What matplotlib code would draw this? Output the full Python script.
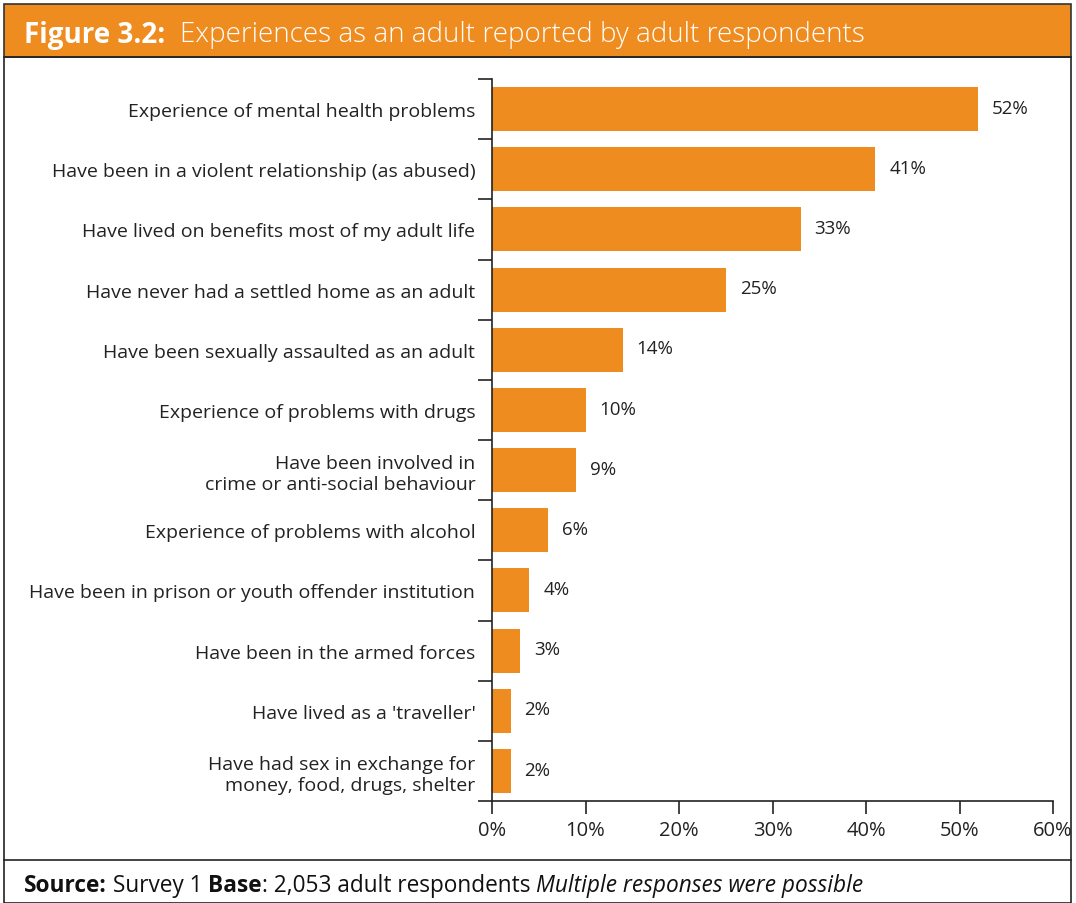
import matplotlib.pyplot as plt
from matplotlib.patches import Rectangle
from matplotlib.lines import Line2D
import numpy as np

plt.rcParams['font.family'] = ['Open Sans', 'DejaVu Sans']

categories = [
    'Experience of mental health problems',
    'Have been in a violent relationship (as abused)',
    'Have lived on benefits most of my adult life',
    'Have never had a settled home as an adult',
    'Have been sexually assaulted as an adult',
    'Experience of problems with drugs',
    'Have been involved in\ncrime or anti-social behaviour',
    'Experience of problems with alcohol',
    'Have been in prison or youth offender institution',
    'Have been in the armed forces',
    "Have lived as a 'traveller'",
    'Have had sex in exchange for\nmoney, food, drugs, shelter',
]
values = [52, 41, 33, 25, 14, 10, 9, 6, 4, 3, 2, 2]
xticks = [0, 10, 20, 30, 40, 50, 60]

orange = '#EF8C1F'
W, H = 1076, 904

fig = plt.figure(figsize=(W / 100, H / 100), dpi=100)

# pixel coords -> figure fraction
def fx(px):
    return px / W

def fy(py):
    return 1 - py / H

# header band, frame and source box
fig.patches.append(Rectangle((fx(4), fy(58)), fx(1071) - fx(4), fy(5) - fy(58),
                             transform=fig.transFigure, facecolor=orange,
                             edgecolor='#333333', lw=1.2, zorder=0))
fig.patches.append(Rectangle((fx(4), fy(904)), fx(1071) - fx(4), fy(58) - fy(904),
                             transform=fig.transFigure, facecolor='none',
                             edgecolor='#222222', lw=1.2, zorder=0))
fig.lines.append(Line2D([fx(4), fx(1071)], [fy(861), fy(861)],
                        transform=fig.transFigure, color='#222222', lw=1.2))

fig.text(fx(24), fy(35), 'Figure 3.2:', color='white', fontsize=20,
         fontweight='bold', va='center', ha='left')
fig.text(fx(180), fy(35), 'Experiences as an adult reported by adult respondents',
         color='white', fontsize=20, fontweight='light', va='center', ha='left')

# source line built from pieces
x = fx(24)
r = fig.canvas.get_renderer()
parts = [('Source:', 'bold', 'normal'), (' Survey 1 ', 'normal', 'normal'),
         ('Base', 'bold', 'normal'), (': 2,053 adult respondents ', 'normal', 'normal'),
         ('Multiple responses were possible', 'normal', 'italic')]
for txt, wgt, sty in parts:
    t = fig.text(x, fy(886), txt, fontsize=16.3, fontweight=wgt, fontstyle=sty,
                 va='center', ha='left', color='#111111')
    bb = t.get_window_extent(renderer=r)
    x += bb.width / W

ax = fig.add_axes([fx(492), fy(802), fx(1053) - fx(492), fy(80) - fy(802)])
y = np.arange(len(categories))
ax.barh(y, values, height=0.73, color=orange)
ax.set_ylim(len(categories) - 0.5, -0.5)
ax.set_xlim(0, 60)

for yi, v in zip(y, values):
    ax.annotate(f'{v}%', (v, yi), xytext=(10, 1), textcoords='offset points',
                va='center', ha='left', fontsize=13.5, color='#222222')

ax.set_xticks(xticks)
ax.set_xticklabels([f'{t}%' for t in xticks], fontsize=14.5, color='#222222')
ax.set_yticks(y)
ax.set_yticklabels(categories, fontsize=14, color='#222222', ha='right',
                   multialignment='right')
ax.tick_params(axis='y', which='major', length=0, pad=12)
ax.set_yticks(np.arange(-0.5, len(categories) + 0.5, 1), minor=True)
ax.tick_params(axis='y', which='minor', length=10, width=1.2, color='#222222')
ax.tick_params(axis='x', length=9, width=1.2, color='#222222', pad=5)
for s in ['top', 'right']:
    ax.spines[s].set_visible(False)
for s in ['left', 'bottom']:
    ax.spines[s].set_linewidth(1.2)
    ax.spines[s].set_color('#222222')

fig.savefig('out.png', dpi=100)
